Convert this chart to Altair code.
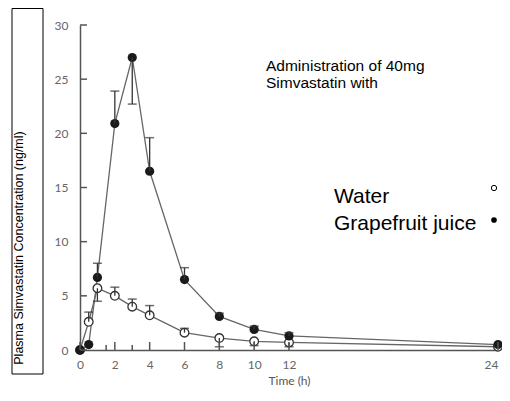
import altair as alt
import pandas as pd

# ---- data ----
times = [0, 0.5, 1, 2, 3, 4, 6, 8, 10, 12, 24]
water = [0, 2.6, 5.7, 5.0, 4.0, 3.2, 1.6, 1.1, 0.8, 0.7, 0.3]
water_err = [None, 3.5, 4.5, 5.8, 4.7, 4.1, 2.0, 0.3, 0.4, 0.3, None]
juice = [0, 0.5, 6.7, 20.9, 27.0, 16.5, 6.5, 3.1, 1.9, 1.3, 0.5]
juice_err = [None, None, 8.0, 23.9, 22.7, 19.6, 7.6, 3.4, 2.2, 1.6, None]

x_major = [0, 2, 4, 6, 8, 10, 12, 24]
x_minor = [1.5, 3]
y_ticks = [0, 5, 10, 15, 20, 25, 30]

W, H = 418, 325

df = pd.DataFrame({
    "time": times * 2,
    "value": water + juice,
    "err": water_err + juice_err,
    "series": ["Water"] * len(times) + ["Grapefruit juice"] * len(times),
})
df_err = df.dropna(subset=["err"])

xs = alt.Scale(domain=[0, 24], nice=False, zero=False)
ys = alt.Scale(domain=[0, 30], nice=False)

label_font = "Lato"
axis_col = "#555555"

X = alt.X("time:Q", scale=xs, axis=alt.Axis(
    values=x_major, ticks=False, grid=False, labelFlush=False,
    labelAlign=alt.expr("datum.value == 24 ? 'right' : 'center'"),
    labelPadding=9, labelFont=label_font, labelFontSize=12, labelColor="#666666",
    domainColor=axis_col, domainWidth=1.5,
    title="Time (h)", titleFont=label_font, titleFontSize=12,
    titleFontWeight="normal", titleColor="#555555", titlePadding=5))
Y = alt.Y("value:Q", scale=ys, axis=alt.Axis(
    values=y_ticks, ticks=False, grid=False, labelPadding=12,
    labelFont=label_font, labelFontSize=12, labelColor="#666666",
    domainColor=axis_col, domainWidth=1.5, title=None))

lines = alt.Chart(df).mark_line(color="#666666", strokeWidth=1.3).encode(
    x=X, y=Y, detail="series:N")

water_pts = alt.Chart(df[df.series == "Water"]).mark_point(
    shape="circle", size=75, fill="white", fillOpacity=1, stroke="#333333",
    strokeWidth=1.3, opacity=1).encode(x="time:Q", y="value:Q")

juice_pts = alt.Chart(df[df.series == "Grapefruit juice"]).mark_point(
    shape="circle", size=85, filled=True, color="#1a1a1a", opacity=1).encode(
    x="time:Q", y="value:Q")

err_rule = alt.Chart(df_err).mark_rule(color="#333333", strokeWidth=1.3).encode(
    x="time:Q", y="value:Q", y2="err:Q")
err_cap = alt.Chart(df_err).mark_tick(orient="horizontal", size=9, thickness=1.5,
                                      color="#333333").encode(x="time:Q", y="err:Q")

xt_major = alt.Chart(pd.DataFrame({"t": x_major})).mark_rule(
    color=axis_col, strokeWidth=1.5).encode(
    x="t:Q", y=alt.value(H), y2=alt.value(H - 8))
xt_minor = alt.Chart(pd.DataFrame({"t": x_minor})).mark_rule(
    color=axis_col, strokeWidth=1.5).encode(
    x="t:Q", y=alt.value(H), y2=alt.value(H - 5))
yt = alt.Chart(pd.DataFrame({"v": y_ticks})).mark_rule(
    color=axis_col, strokeWidth=1.5).encode(
    y="v:Q", x=alt.value(0), x2=alt.value(7))

one = pd.DataFrame({"a": [0]})

box = alt.Chart(one).mark_rect(fillOpacity=0, stroke="black", strokeWidth=1).encode(
    x=alt.value(-68), x2=alt.value(-37), y=alt.value(-16.5), y2=alt.value(349))

ytitle = alt.Chart(one).mark_text(
    text="Plasma Simvastatin Concentration (ng/ml)", angle=270, align="center",
    baseline="middle", font="Liberation Sans", fontSize=12.5, color="black").encode(
    x=alt.value(-61.5), y=alt.value(223))

note1 = alt.Chart(one).mark_text(
    text="Administration of 40mg", align="left", baseline="alphabetic",
    font="Liberation Sans", fontSize=15.5, color="black").encode(
    x=alt.value(186), y=alt.value(46))
note2 = alt.Chart(one).mark_text(
    text="Simvastatin with", align="left", baseline="alphabetic",
    font="Liberation Sans", fontSize=15.5, color="black").encode(
    x=alt.value(186), y=alt.value(63))

leg_water = alt.Chart(one).mark_text(
    text="Water", align="left", baseline="alphabetic",
    font="Liberation Sans", fontSize=21, color="black").encode(
    x=alt.value(254), y=alt.value(178))
leg_juice = alt.Chart(one).mark_text(
    text="Grapefruit juice", align="left", baseline="alphabetic",
    font="Liberation Sans", fontSize=21, color="black").encode(
    x=alt.value(254), y=alt.value(205))
leg_wpt = alt.Chart(one).mark_point(shape="circle", size=28, fill="white",
                                    fillOpacity=1, stroke="black", strokeWidth=1,
                                    opacity=1).encode(x=alt.value(414), y=alt.value(163))
leg_jpt = alt.Chart(one).mark_point(shape="circle", size=32, filled=True,
                                    color="black", opacity=1).encode(
    x=alt.value(414), y=alt.value(195))

chart = alt.layer(
    lines, water_pts, juice_pts, err_rule, err_cap, xt_major, xt_minor, yt,
    box, ytitle, note1, note2, leg_water, leg_juice, leg_wpt, leg_jpt
).properties(
    width=W, height=H,
    autosize=alt.AutoSizeParams(type="none"),
    padding={"left": 72, "top": 17, "right": 4, "bottom": 38},
    background="white",
).configure_view(stroke=None)

chart.save("out.html", embed_options={"renderer": "svg", "actions": False})
